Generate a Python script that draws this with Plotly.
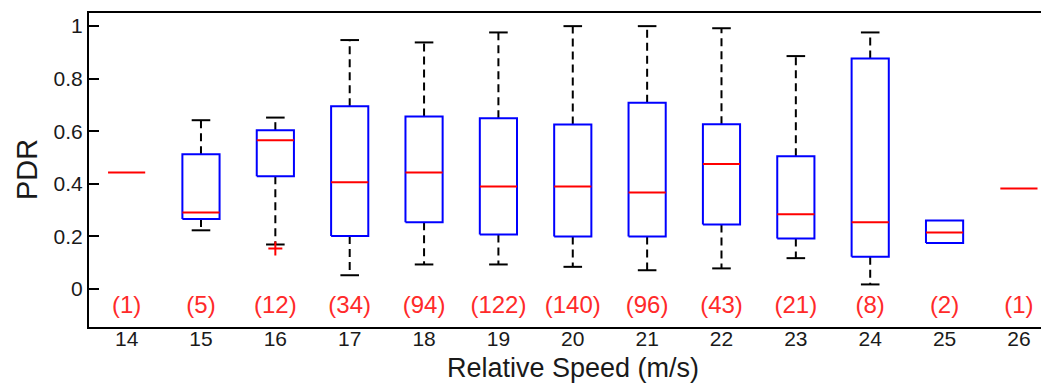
import plotly.graph_objects as go

speeds = [14, 15, 16, 17, 18, 19, 20, 21, 22, 23, 24, 25, 26]
counts = [1, 5, 12, 34, 94, 122, 140, 96, 43, 21, 8, 2, 1]
upper = [0.443, 0.642, 0.652, 0.947, 0.938, 0.976, 1.000, 1.000, 0.992, 0.886, 0.976, 0.260, 0.382]
q3 = [0.443, 0.512, 0.604, 0.695, 0.656, 0.649, 0.626, 0.708, 0.627, 0.505, 0.877, 0.260, 0.382]
median = [0.443, 0.291, 0.566, 0.406, 0.443, 0.390, 0.390, 0.367, 0.475, 0.284, 0.254, 0.215, 0.382]
q1 = [0.443, 0.266, 0.429, 0.201, 0.254, 0.207, 0.199, 0.199, 0.245, 0.192, 0.122, 0.175, 0.382]
lower = [0.443, 0.223, 0.169, 0.052, 0.093, 0.093, 0.084, 0.071, 0.078, 0.117, 0.017, 0.175, 0.382]
outlier_x = [16]
outlier_y = [0.154]

BW = 0.25   # half box width
CW = 0.125  # half cap width
FONT = "Liberation Sans, Arial, sans-serif"

wx, wy, cx, cy, bx, by, mx, my = [], [], [], [], [], [], [], []
for s, up, a, m, b, lo in zip(speeds, upper, q3, median, q1, lower):
    if up > a:
        wx += [s, s, None]
        wy += [a, up, None]
        cx += [s - CW, s + CW, None]
        cy += [up, up, None]
    if lo < b:
        wx += [s, s, None]
        wy += [b, lo, None]
        cx += [s - CW, s + CW, None]
        cy += [lo, lo, None]
    if a > b:
        bx += [s - BW, s + BW, s + BW, s - BW, s - BW, None]
        by += [b, b, a, a, b, None]
    mx += [s - BW, s + BW, None]
    my += [m, m, None]

fig = go.Figure()
fig.add_trace(go.Scatter(x=wx, y=wy, mode="lines", line=dict(color="black", width=2, dash="8px,5px"),
                         hoverinfo="skip", showlegend=False))
fig.add_trace(go.Scatter(x=cx, y=cy, mode="lines", line=dict(color="black", width=2),
                         hoverinfo="skip", showlegend=False))
fig.add_trace(go.Scatter(x=bx, y=by, mode="lines", line=dict(color="#0000ff", width=2),
                         hoverinfo="skip", showlegend=False))
fig.add_trace(go.Scatter(x=mx, y=my, mode="lines", line=dict(color="#ff0000", width=2),
                         hoverinfo="skip", showlegend=False))
fig.add_trace(go.Scatter(x=outlier_x, y=outlier_y, mode="markers",
                         marker=dict(symbol="cross-thin", size=10, line=dict(color="#ff0000", width=2)),
                         showlegend=False))
fig.add_trace(go.Scatter(x=speeds, y=[-0.068] * len(speeds), mode="text",
                         text=[f"({c})" for c in counts],
                         textfont=dict(color="#ff2a2a", size=24, family=FONT),
                         hoverinfo="skip", showlegend=False))

fig.add_annotation(text="Relative Speed (m/s)", x=20, xref="x", y=0, yref="paper",
                   yshift=-41, yanchor="middle", showarrow=False,
                   font=dict(size=27, family=FONT, color="#1a1a1a"))
fig.add_annotation(text="PDR", x=0, xref="paper", xshift=-62, xanchor="center",
                   y=0.5, yref="paper", yanchor="middle",
                   textangle=-90, showarrow=False,
                   font=dict(size=29, family=FONT, color="#1a1a1a"))

fig.update_layout(
    width=1041, height=384,
    margin=dict(l=89, r=0, t=13, b=57),
    paper_bgcolor="white", plot_bgcolor="white",
    font=dict(family=FONT, size=21, color="#1a1a1a"),
)
fig.update_xaxes(range=[13.494, 26.297], tickmode="array", tickvals=speeds,
                 ticktext=[str(s) for s in speeds], showgrid=False, zeroline=False,
                 showline=True, linecolor="black", linewidth=2, mirror=True,
                 ticks="", tickfont=dict(size=21), ticklabelstandoff=-8)
fig.update_yaxes(range=[-0.145, 1.05], tickmode="array", tickvals=[0, 0.2, 0.4, 0.6, 0.8, 1],
                 ticktext=["0", "0.2", "0.4", "0.6", "0.8", "1"], showgrid=False, zeroline=False,
                 showline=True, linecolor="black", linewidth=2,
                 ticks="inside", ticklen=10, tickwidth=2, tickcolor="black", tickfont=dict(size=21))

fig.write_html("out.html")
